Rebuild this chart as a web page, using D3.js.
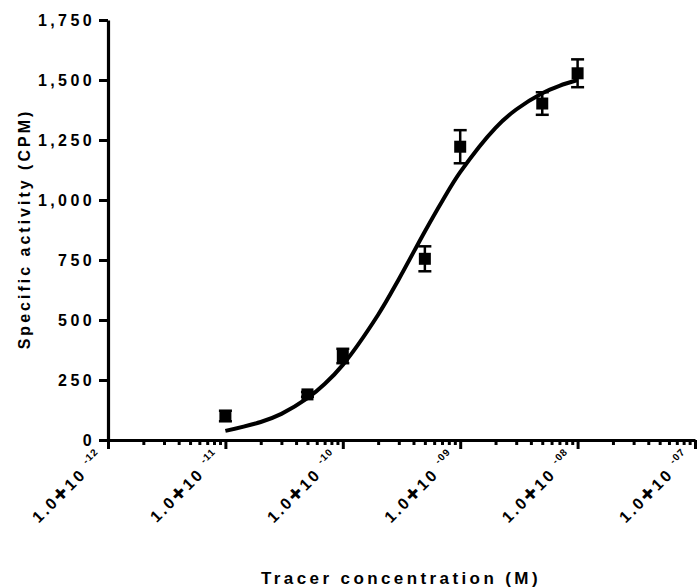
<!DOCTYPE html>
<html>
<head>
<meta charset="utf-8">
<script src="https://cdn.jsdelivr.net/npm/d3@7"></script>
<style>
  html, body { margin: 0; padding: 0; background: #fff; }
  svg { display: block; }
  text { font-family: "Liberation Sans", Arial, sans-serif; font-weight: bold; fill: #000; }
</style>
</head>
<body>
<svg id="chart" width="697" height="587"></svg>
<script>
// Tracer concentrations (M) and measured specific activity
const concentrations = [1e-11, 5e-11, 1e-10, 5e-10, 1e-9, 5e-9, 1e-8];
const activity = [100, 190, 350, 755, 1222, 1402, 1528];
const activityErr = [22, 10, 30, 52, 69, 47, 58];

// Fitted binding curve, sampled along the concentration range
const fitX = [1e-11, 2e-11, 3e-11, 5e-11, 7e-11, 1e-10, 2e-10, 3e-10, 5e-10, 7e-10,
              1e-9, 2e-9, 3e-9, 5e-9, 7e-9, 1e-8];
const fitY = [38, 75, 109, 174, 233, 313, 522, 670, 869, 994,
              1116, 1301, 1377, 1445, 1476, 1500];

// Axis ticks
const yTicks = [0, 250, 500, 750, 1000, 1250, 1500, 1750];
const xMajorTicks = [1e-12, 1e-11, 1e-10, 1e-9, 1e-8, 1e-7];
const xTickExponents = ["-12", "-11", "-10", "-09", "-08", "-07"];

const svg = d3.select("#chart");

const x = d3.scaleLog().domain([1e-12, 1e-7]).range([108, 695]);
const y = d3.scaleLinear().domain([0, 1750]).range([440, 20]);

// Y axis
const yAxis = svg.append("g")
  .attr("transform", "translate(108,0)")
  .call(d3.axisLeft(y).tickValues(yTicks).tickSize(9).tickSizeOuter(0)
    .tickFormat(d3.format(",")).tickPadding(4));
yAxis.select(".domain").attr("stroke", "#000").attr("stroke-width", 3.2);
yAxis.selectAll(".tick line").attr("stroke", "#000").attr("stroke-width", 3);
yAxis.selectAll(".tick text")
  .style("font-size", "16px")
  .style("letter-spacing", "3.4px")
  .attr("dy", "0.36em");

// X axis: minor ticks for every 2..9 within each decade
const minorTicks = [];
xMajorTicks.slice(0, -1).forEach(d => {
  for (let k = 2; k <= 9; k++) minorTicks.push(d * k);
});
const xMinor = svg.append("g")
  .attr("transform", "translate(0,440)")
  .call(d3.axisBottom(x).tickValues(minorTicks).tickSize(5).tickSizeOuter(0).tickFormat(""));
xMinor.select(".domain").remove();
xMinor.selectAll(".tick line").attr("stroke", "#000").attr("stroke-width", 3);

const xAxis = svg.append("g")
  .attr("transform", "translate(0,440)")
  .call(d3.axisBottom(x).tickValues(xMajorTicks).tickSize(9).tickSizeOuter(0).tickFormat(""));
xAxis.select(".domain").attr("stroke", "#000").attr("stroke-width", 3.2);
xAxis.selectAll(".tick line").attr("stroke", "#000").attr("stroke-width", 3);

// Rotated x tick labels: 1.0 x 10^exp, attached to each major tick
xAxis.selectAll(".tick").each(function(t, i) {
  const txt = d3.select(this).append("text")
    .attr("transform", "translate(-4,18) rotate(-45)")
    .attr("text-anchor", "end")
    .attr("fill", "#000")
    .style("font-size", "16px")
    .style("letter-spacing", "2.5px");
  txt.append("tspan").text("1.0");
  txt.append("tspan").style("font-family", "DejaVu Sans").style("font-size", "16px").text("\u271A");
  txt.append("tspan").text("10 ");
  txt.append("tspan").attr("dy", -8).style("font-size", "10px").style("letter-spacing", "1px").text(xTickExponents[i]);
});

// Fitted curve
const line = d3.line()
  .x(d => x(d[0]))
  .y(d => y(d[1]))
  .curve(d3.curveCatmullRom.alpha(0.5));
svg.append("path")
  .datum(fitX.map((c, i) => [c, fitY[i]]))
  .attr("d", line)
  .attr("fill", "none")
  .attr("stroke", "#000")
  .attr("stroke-width", 4);

// Error bars
const points = concentrations.map((c, i) => ({ c, v: activity[i], e: activityErr[i] }));
const eb = svg.append("g").selectAll("g").data(points).join("g");
eb.append("line")
  .attr("x1", d => x(d.c)).attr("x2", d => x(d.c))
  .attr("y1", d => y(d.v - d.e)).attr("y2", d => y(d.v + d.e))
  .attr("stroke", "#000").attr("stroke-width", 2.5);
[-1, 1].forEach(s => {
  eb.append("line")
    .attr("x1", d => x(d.c) - 6.5).attr("x2", d => x(d.c) + 6.5)
    .attr("y1", d => y(d.v + s * d.e)).attr("y2", d => y(d.v + s * d.e))
    .attr("stroke", "#000").attr("stroke-width", 2.5);
});

// Square markers
svg.append("g").selectAll("rect").data(points).join("rect")
  .attr("x", d => x(d.c) - 6)
  .attr("y", d => y(d.v) - 6)
  .attr("width", 12)
  .attr("height", 12)
  .attr("fill", "#000");

// Axis titles
svg.append("text")
  .attr("transform", "translate(30,229) rotate(-90)")
  .attr("text-anchor", "middle")
  .style("font-size", "16px")
  .style("letter-spacing", "3px")
  .text("Specific activity (CPM)");

svg.append("text")
  .attr("x", 401)
  .attr("y", 584)
  .attr("text-anchor", "middle")
  .style("font-size", "17px")
  .style("letter-spacing", "3.4px")
  .text("Tracer concentration (M)");
</script>
</body>
</html>
